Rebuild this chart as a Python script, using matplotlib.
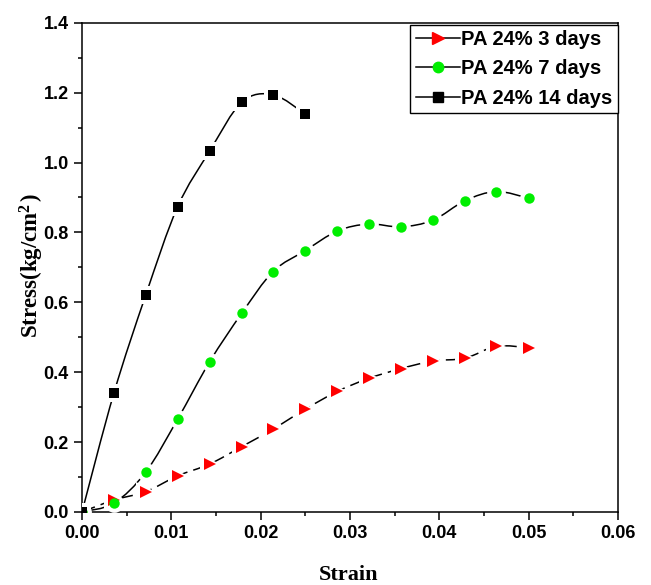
import matplotlib
matplotlib.use('Agg')
import matplotlib.pyplot as plt
from matplotlib.path import Path
from matplotlib.patches import PathPatch
from matplotlib.lines import Line2D
from matplotlib.ticker import MultipleLocator

# Дані
strain = [0.0, 0.00357, 0.00714, 0.0107, 0.0143, 0.0179, 0.0214, 0.025,
          0.0286, 0.0321, 0.0357, 0.0393, 0.0429, 0.0464, 0.05]
stress_3d = [0.0, 0.034, 0.058, 0.103, 0.137, 0.187, 0.237, 0.294,
             0.345, 0.382, 0.41, 0.432, 0.44, 0.474, 0.47]
stress_7d = [0.0, 0.025, 0.114, 0.265, 0.43, 0.569, 0.688, 0.748,
             0.804, 0.824, 0.816, 0.835, 0.891, 0.917, 0.898]
strain_14d = strain[:8]
stress_14d = [0.0, 0.34, 0.621, 0.873, 1.033, 1.173, 1.194, 1.139]

labels = ['PA 24% 3 days', 'PA 24% 7 days', 'PA 24% 14 days']

plt.rcParams['mathtext.fontset'] = 'custom'
plt.rcParams['mathtext.rm'] = 'Liberation Serif:bold'
plt.rcParams['mathtext.it'] = 'Liberation Serif:bold'
plt.rcParams['mathtext.bf'] = 'Liberation Serif:bold'


# Гладка крива через точки (Catmull-Rom -> Безьє)
def smooth_curve(ax, x, y, ls):
    pts = list(zip(x, y))
    n = len(pts)
    verts = [pts[0]]
    codes = [Path.MOVETO]
    for i in range(n - 1):
        p0 = pts[max(i - 1, 0)]
        p1 = pts[i]
        p2 = pts[i + 1]
        p3 = pts[min(i + 2, n - 1)]
        c1 = (p1[0] + (p2[0] - p0[0]) / 6, p1[1] + (p2[1] - p0[1]) / 6)
        c2 = (p2[0] - (p3[0] - p1[0]) / 6, p2[1] - (p3[1] - p1[1]) / 6)
        verts += [c1, c2, p2]
        codes += [Path.CURVE4] * 3
    patch = PathPatch(Path(verts, codes), fill=False, edgecolor='black',
                      lw=1.1, linestyle=ls, zorder=2)
    ax.add_patch(patch)


fig = plt.figure(figsize=(6.51, 5.85), dpi=100)
ax = fig.add_axes([0.126, 0.125, 0.823, 0.836])

series = [
    (strain, stress_3d, '>', 'red', 8.5, (0, (9, 4))),
    (strain, stress_7d, 'o', '#00ee00', 7.5, '-'),
    (strain_14d, stress_14d, 's', 'black', 6.5, '-'),
]

handles = []
for (x, y, m, c, ms, ls), lab in zip(series, labels):
    smooth_curve(ax, x, y, ls)
    ax.plot(x, y, ls='none', marker=m, ms=ms + 6, color='white', mew=0, zorder=3)
    ax.plot(x, y, ls='none', marker=m, ms=ms, color=c, mew=0, zorder=4)
    handles.append(Line2D([], [], color='black', lw=1.1, marker=m, ms=ms,
                          mfc=c, mec=c, label=lab))

ax.set_xlim(0, 0.06)
ax.set_ylim(0, 1.4)
ax.xaxis.set_major_locator(MultipleLocator(0.01))
ax.xaxis.set_minor_locator(MultipleLocator(0.005))
ax.yaxis.set_major_locator(MultipleLocator(0.2))
ax.yaxis.set_minor_locator(MultipleLocator(0.1))
ax.xaxis.set_major_formatter(plt.FormatStrFormatter('%.2f'))
ax.yaxis.set_major_formatter(plt.FormatStrFormatter('%.1f'))

ax.tick_params(which='major', direction='out', length=6, width=1.1,
               labelsize=13)
ax.tick_params(which='minor', direction='out', length=3, width=1.1)
for lab in ax.get_xticklabels() + ax.get_yticklabels():
    lab.set_fontfamily('Liberation Sans')
    lab.set_fontweight('bold')
for sp in ax.spines.values():
    sp.set_linewidth(1.1)

ax.set_xlabel('Strain', fontsize=16, fontweight='bold',
              fontfamily='Liberation Serif')
ax.set_ylabel('Stress(kg/cm$^{2\\,}$)', fontsize=16.5, fontweight='bold',
              fontfamily='Liberation Serif')
ax.xaxis.set_label_coords(0.498, -0.108)
ax.yaxis.set_label_coords(-0.068, 0.505)

leg = ax.legend(handles=handles, loc='upper right', bbox_to_anchor=(1.0, 0.996),
                borderaxespad=0, fancybox=False, framealpha=1, edgecolor='black',
                prop={'family': 'Liberation Sans', 'weight': 'bold', 'size': 14.5},
                handlelength=2.2, handletextpad=0.05, labelspacing=0.5,
                borderpad=0.28)
leg.get_frame().set_linewidth(1.0)

fig.savefig('out.png', dpi=100)
